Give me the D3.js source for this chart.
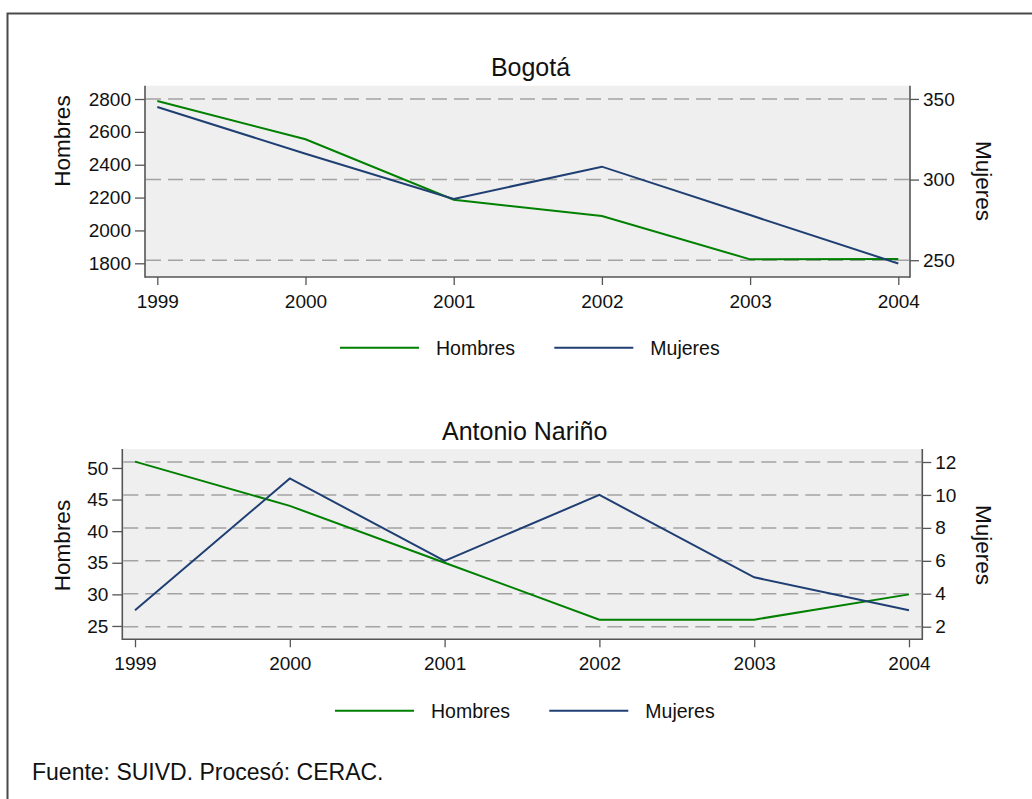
<!DOCTYPE html>
<html>
<head>
<meta charset="utf-8">
<script src="https://cdn.jsdelivr.net/npm/d3@7"></script>
<style>
  html, body { margin: 0; padding: 0; background: #fff; }
  svg { display: block; }
  text { font-family: "Liberation Sans", Arial, sans-serif; fill: #111; }
</style>
</head>
<body>
<svg id="chart" width="1032" height="799"></svg>
<script>
// ---- DATA ----
const years = [1999, 2000, 2001, 2002, 2003, 2004];
const panelTitles = ["Bogotá", "Antonio Nariño"];
const seriesNames = ["Hombres", "Mujeres"];

const bogotaHombres = [2788, 2555, 2187, 2088, 1824, 1826];
const bogotaMujeres = [345, 316, 288, 308, 278, 248];
const narinoHombres = [51, 44, 35, 26, 26, 30];
const narinoMujeres = [3, 11, 6, 10, 5, 3];

const bogotaLeftTicks = [1800, 2000, 2200, 2400, 2600, 2800];
const bogotaRightTicks = [250, 300, 350];
const narinoLeftTicks = [25, 30, 35, 40, 45, 50];
const narinoRightTicks = [2, 4, 6, 8, 10, 12];

const footnote = "Fuente: SUIVD. Procesó: CERAC.";

// ---- STYLE / LAYOUT ----
const colHombres = "#008000";
const colMujeres = "#1f3f73";
const plotBg = "#efefef";
const gridCol = "#a3a3a3";
const axisCol = "#555";

const svg = d3.select("#chart");

// outer frame (extends beyond the image at right and bottom)
svg.append("rect")
  .attr("x", 7.5).attr("y", 13.5)
  .attr("width", 1100).attr("height", 900)
  .attr("fill", "none").attr("stroke", "#4a4a4a").attr("stroke-width", 2);

const panels = [
  {
    title: panelTitles[0], hom: bogotaHombres, muj: bogotaMujeres,
    leftTicks: bogotaLeftTicks, rightTicks: bogotaRightTicks,
    box: {x0: 145, x1: 910, y0: 85.7, y1: 277},
    xr: [157.3, 898.3],
    leftDom: [1716.6, 2881], rightDom: [239.6, 358.2],
    titleX: 530.5, titleY: 76,
    leftTitleY: 141, rightTitleY: 181,
    xLabelY: 308,
    legendY: 347.7, legendX: 340
  },
  {
    title: panelTitles[1], hom: narinoHombres, muj: narinoMujeres,
    leftTicks: narinoLeftTicks, rightTicks: narinoRightTicks,
    box: {x0: 122.3, x1: 922.3, y0: 449, y1: 639.3},
    xr: [135, 909],
    leftDom: [22.89, 53.0], rightDom: [1.235, 12.79],
    titleX: 524.7, titleY: 440,
    leftTitleY: 545.5, rightTitleY: 545,
    xLabelY: 670,
    legendY: 710.7, legendX: 335
  }
];

panels.forEach(p => {
  const b = p.box;
  const g = svg.append("g");
  const x = d3.scaleLinear().domain([years[0], years[years.length - 1]]).range(p.xr);
  const yL = d3.scaleLinear().domain(p.leftDom).range([b.y1, b.y0]);
  const yR = d3.scaleLinear().domain(p.rightDom).range([b.y1, b.y0]);

  // plot background
  g.append("rect").attr("x", b.x0).attr("y", b.y0)
    .attr("width", b.x1 - b.x0).attr("height", b.y1 - b.y0)
    .attr("fill", plotBg);

  // gridlines at right-axis ticks
  g.selectAll("line.grid").data(p.rightTicks).enter().append("line")
    .attr("class", "grid")
    .attr("x1", b.x0 + 1).attr("x2", b.x1 - 1)
    .attr("y1", d => yR(d)).attr("y2", d => yR(d))
    .attr("stroke", gridCol).attr("stroke-width", 1.5)
    .attr("stroke-dasharray", "15,7");

  // lines
  const lineL = d3.line().x((d, i) => x(years[i])).y(d => yL(d));
  const lineR = d3.line().x((d, i) => x(years[i])).y(d => yR(d));
  g.append("path").datum(p.hom).attr("d", lineL)
    .attr("fill", "none").attr("stroke", colHombres).attr("stroke-width", 2);
  g.append("path").datum(p.muj).attr("d", lineR)
    .attr("fill", "none").attr("stroke", colMujeres).attr("stroke-width", 2);

  // axes
  const axL = d3.axisLeft(yL).tickValues(p.leftTicks).tickSize(10).tickPadding(4).tickFormat(d3.format("d"));
  const axR = d3.axisRight(yR).tickValues(p.rightTicks).tickSize(9).tickPadding(4).tickFormat(d3.format("d"));
  const axB = d3.axisBottom(x).tickValues(years).tickSize(8).tickPadding(6).tickFormat(d3.format("d"));

  const gL = g.append("g").attr("transform", `translate(${b.x0},0)`).call(axL);
  const gR = g.append("g").attr("transform", `translate(${b.x1},0)`).call(axR);
  const gB = g.append("g").attr("transform", `translate(0,${b.y1})`).call(axB);

  [gL, gR, gB].forEach(a => {
    a.select(".domain").remove();
    a.selectAll(".tick line").attr("stroke", axisCol).attr("stroke-width", 1.3);
    a.selectAll(".tick text").attr("font-size", 19).attr("fill", "#111")
      .attr("font-family", "Liberation Sans, Arial, sans-serif");
  });
  gB.selectAll(".tick text").attr("dy", null).attr("y", null)
    .attr("transform", `translate(0,${p.xLabelY - b.y1})`);

  // axis lines (left, right, bottom)
  g.append("line").attr("x1", b.x0).attr("x2", b.x0).attr("y1", b.y0).attr("y2", b.y1 + 0.7)
    .attr("stroke", axisCol).attr("stroke-width", 1.6);
  g.append("line").attr("x1", b.x1).attr("x2", b.x1).attr("y1", b.y0).attr("y2", b.y1 + 0.7)
    .attr("stroke", axisCol).attr("stroke-width", 1.6);
  g.append("line").attr("x1", b.x0).attr("x2", b.x1).attr("y1", b.y1).attr("y2", b.y1)
    .attr("stroke", axisCol).attr("stroke-width", 1.6);

  // titles
  g.append("text").attr("x", p.titleX).attr("y", p.titleY)
    .attr("text-anchor", "middle").attr("font-size", 25).text(p.title);

  g.append("text")
    .attr("transform", `translate(70,${p.leftTitleY}) rotate(-90)`)
    .attr("text-anchor", "middle").attr("font-size", 22.5).text(seriesNames[0]);
  g.append("text")
    .attr("transform", `translate(975.5,${p.rightTitleY}) rotate(90)`)
    .attr("text-anchor", "middle").attr("font-size", 22.5).text(seriesNames[1]);

  // legend
  const lg = g.append("g");
  const items = [
    {name: seriesNames[0], col: colHombres, x: p.legendX},
    {name: seriesNames[1], col: colMujeres, x: p.legendX + 214.3}
  ];
  items.forEach(it => {
    lg.append("line").attr("x1", it.x).attr("x2", it.x + 79)
      .attr("y1", p.legendY).attr("y2", p.legendY)
      .attr("stroke", it.col).attr("stroke-width", 2);
    lg.append("text").attr("x", it.x + 96).attr("y", p.legendY + 7.5)
      .attr("font-size", 19.5).text(it.name);
  });
});

svg.append("text").attr("x", 32).attr("y", 780)
  .attr("font-size", 23).text(footnote);
</script>
</body>
</html>
